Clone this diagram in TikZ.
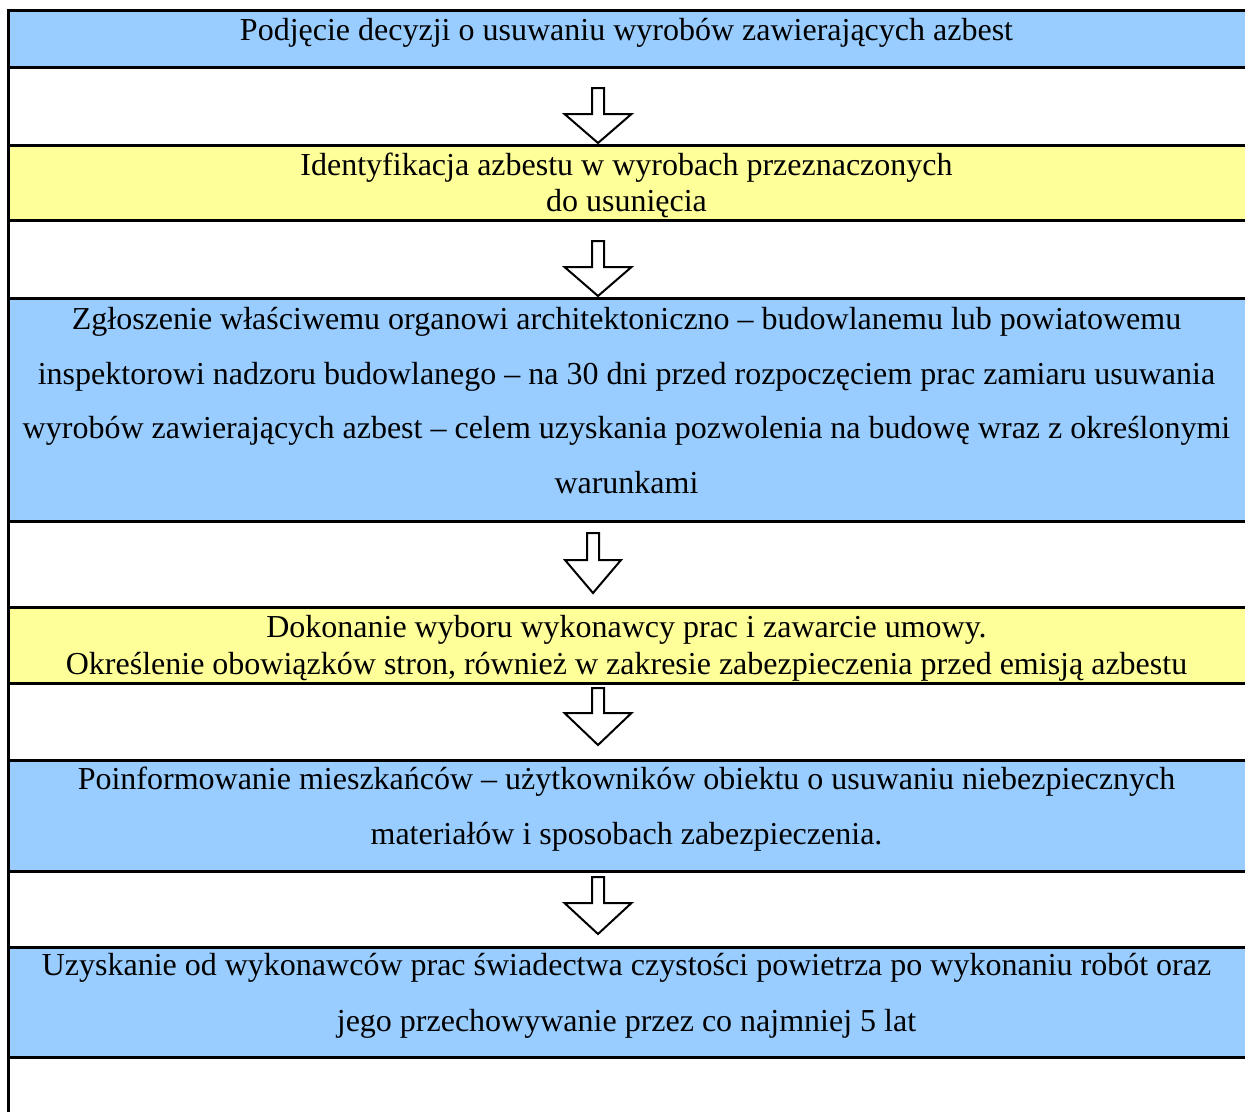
\documentclass[tikz,border=0pt]{standalone}
\usepackage{fontspec}
\setmainfont{Liberation Serif}
\definecolor{rowblue}{HTML}{99CCFF}
\definecolor{rowyellow}{HTML}{FFFF99}
\tikzset{
  rule/.style={line width=3pt},
  txt/.style={anchor=base, inner sep=0pt, font=\fontsize{32}{38}\selectfont},
  blockarr/.style={draw=black, fill=white, line width=2pt, line join=miter},
}
\newcommand{\blockarrow}[6]{% name, cx, top, base, tip, halfwidth
  \draw[blockarr] (#2-6,#3) -- (#2+6,#3) -- (#2+6,#4) -- (#2+#6,#4)
    -- (#2,#5) coordinate (#1) -- (#2-#6,#4) -- (#2-6,#4) -- cycle;}
\begin{document}
\begin{tikzpicture}[x=1pt,y=-1pt]
\useasboundingbox (0,0) rectangle (1245,1112);
\fill[white] (0,0) rectangle (1245,1112);
% coloured rows
\fill[rowblue]   (8,10)  rectangle (1245,67);
\fill[rowyellow] (8,145) rectangle (1245,220);
\fill[rowblue]   (8,298) rectangle (1245,521);
\fill[rowyellow] (8,607) rectangle (1245,683);
\fill[rowblue]   (8,760) rectangle (1245,871);
\fill[rowblue]   (8,947) rectangle (1245,1057);
% rules
\foreach \y in {10,67,145,220,298,521,607,683,760,871,947,1057}
  \draw[rule] (6.5,\y) -- (1245,\y);
\draw[rule] (8,8.5) -- (8,1112);
% arrows
\blockarrow{a1}{598}{88}{114}{143}{33.5}
\blockarrow{a2}{598}{241}{267}{296}{33.5}
\blockarrow{a3}{593}{533}{560}{593}{28}
\blockarrow{a4}{598}{688}{713}{745}{33.5}
\blockarrow{a5}{598}{877}{903}{934}{33.5}
% texts
\node[txt] (t1) at (626.5,40) {Podjęcie decyzji o usuwaniu wyrobów zawierających azbest};
\node[txt] (t2a) at (626.5,175) {Identyfikacja azbestu w wyrobach przeznaczonych};
\node[txt] (t2b) at (626.5,211) {do usunięcia};
\node[txt] (t3a) at (626.5,329) {Zgłoszenie właściwemu organowi architektoniczno – budowlanemu lub powiatowemu};
\node[txt] (t3b) at (626.5,384) {inspektorowi nadzoru budowlanego – na 30 dni przed rozpoczęciem prac zamiaru usuwania};
\node[txt] (t3c) at (626.5,438) {wyrobów zawierających azbest – celem uzyskania pozwolenia na budowę wraz z określonymi};
\node[txt] (t3d) at (626.5,493) {warunkami};
\node[txt] (t4a) at (626.5,637) {Dokonanie wyboru wykonawcy prac i zawarcie umowy.};
\node[txt] (t4b) at (626.5,674) {Określenie obowiązków stron, również w zakresie zabezpieczenia przed emisją azbestu};
\node[txt] (t5a) at (626.5,789) {Poinformowanie mieszkańców – użytkowników obiektu o usuwaniu niebezpiecznych};
\node[txt] (t5b) at (626.5,844) {materiałów i sposobach zabezpieczenia.};
\node[txt] (t6a) at (626.5,975) {Uzyskanie od wykonawców prac świadectwa czystości powietrza po wykonaniu robót oraz};
\node[txt] (t6b) at (626.5,1031) {jego przechowywanie przez co najmniej 5 lat};
\end{tikzpicture}
\end{document}
